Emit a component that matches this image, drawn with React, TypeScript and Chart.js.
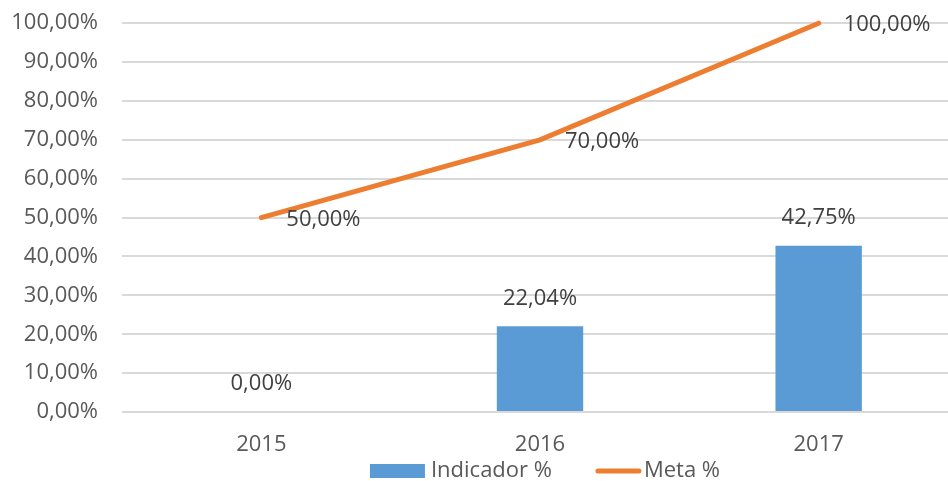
import React, { useEffect, useRef } from "react";
import { Chart, registerables } from "chart.js";

Chart.register(...registerables);

const categories = ["2015", "2016", "2017"];
const indicador = [0, 22.04, 42.75];
const meta = [50, 70, 100];
const seriesNames = ["Indicador %", "Meta %"];
const yMin = 0;
const yMax = 100;
const yStep = 10;

const BLUE = "#5B9BD5";
const ORANGE = "#ED7D31";
const TEXT = "#595959";
const LABEL = "#404040";
const FONT = "'Open Sans', 'Noto Sans', sans-serif";
const FS = 22;

const fmt = (v: number) => v.toFixed(2).replace(".", ",") + "%";

const labelsPlugin = {
  id: "valueLabels",
  afterDatasetsDraw(chart: any) {
    const ctx = chart.ctx;
    ctx.save();
    ctx.font = `${FS}px ${FONT}`;
    ctx.fillStyle = LABEL;
    const barMeta = chart.getDatasetMeta(0);
    barMeta.data.forEach((el: any, i: number) => {
      ctx.textAlign = "center";
      ctx.textBaseline = "middle";
      ctx.fillText(fmt(indicador[i]), el.x, el.y - 28);
    });
    const lineMeta = chart.getDatasetMeta(1);
    lineMeta.data.forEach((el: any, i: number) => {
      ctx.textAlign = "left";
      ctx.textBaseline = "middle";
      ctx.fillText(fmt(meta[i]), el.x + 25, el.y + 2);
    });
    ctx.restore();
  },
  afterDraw(chart: any) {
    const ctx = chart.ctx;
    const area = chart.chartArea;
    ctx.save();
    ctx.font = `${FS}px ${FONT}`;
    ctx.textBaseline = "middle";
    ctx.textAlign = "left";
    const w1 = ctx.measureText(seriesNames[0]).width;
    const w2 = ctx.measureText(seriesNames[1]).width;
    const total = 55 + 6 + w1 + 46 + 41 + 5 + w2;
    const cx = (area.left + area.right) / 2 + 5;
    let x = cx - total / 2;
    const y = area.bottom + 59;
    ctx.fillStyle = BLUE;
    ctx.fillRect(x, y - 7, 55, 14);
    x += 55 + 6;
    ctx.fillStyle = TEXT;
    ctx.fillText(seriesNames[0], x, y);
    x += w1 + 46;
    ctx.strokeStyle = ORANGE;
    ctx.lineWidth = 5;
    ctx.lineCap = "round";
    ctx.beginPath();
    ctx.moveTo(x, y);
    ctx.lineTo(x + 41, y);
    ctx.stroke();
    x += 41 + 5;
    ctx.fillText(seriesNames[1], x, y);
    ctx.restore();
  },
};

export default function App() {
  const ref = useRef<HTMLCanvasElement | null>(null);

  useEffect(() => {
    if (!ref.current) return;
    const chart = new Chart(ref.current, {
      type: "bar",
      data: {
        labels: categories,
        datasets: [
          {
            type: "bar",
            label: seriesNames[0],
            data: indicador,
            backgroundColor: BLUE,
            barPercentage: 0.31,
            categoryPercentage: 1,
            order: 2,
          },
          {
            type: "line",
            label: seriesNames[1],
            data: meta,
            borderColor: ORANGE,
            backgroundColor: ORANGE,
            borderWidth: 5,
            pointRadius: 0,
            borderCapStyle: "round",
            tension: 0,
            clip: false,
            order: 1,
          } as any,
        ],
      },
      options: {
        animation: false,
        responsive: false,
        maintainAspectRatio: false,
        layout: { padding: { top: 8, right: 0, left: 0, bottom: 0 } },
        plugins: {
          legend: { display: false },
          tooltip: { enabled: false },
        },
        scales: {
          x: {
            grid: { display: false },
            border: { display: false },
            ticks: { color: TEXT, font: { family: FONT, size: FS }, padding: 12 },
            afterFit: (s: any) => {
              s.height = 69;
            },
          },
          y: {
            min: yMin,
            max: yMax,
            grid: { color: "#D9D9D9", lineWidth: 2, drawTicks: false },
            border: { display: false },
            ticks: {
              stepSize: yStep,
              color: TEXT,
              font: { family: FONT, size: FS },
              padding: 24,
              callback: (v: any) => fmt(Number(v)),
            },
            afterFit: (s: any) => {
              s.width = 122;
            },
          },
        },
      },
      plugins: [labelsPlugin],
    });
    return () => chart.destroy();
  }, []);

  return (
    <div style={{ position: "fixed", left: 0, top: 0, width: 948, height: 481, overflow: "hidden", background: "#fff" }}>
      <canvas
        ref={ref}
        width={958}
        height={495}
        style={{ display: "block", width: 958, height: 495, marginTop: -14 }}
      />
    </div>
  );
}
